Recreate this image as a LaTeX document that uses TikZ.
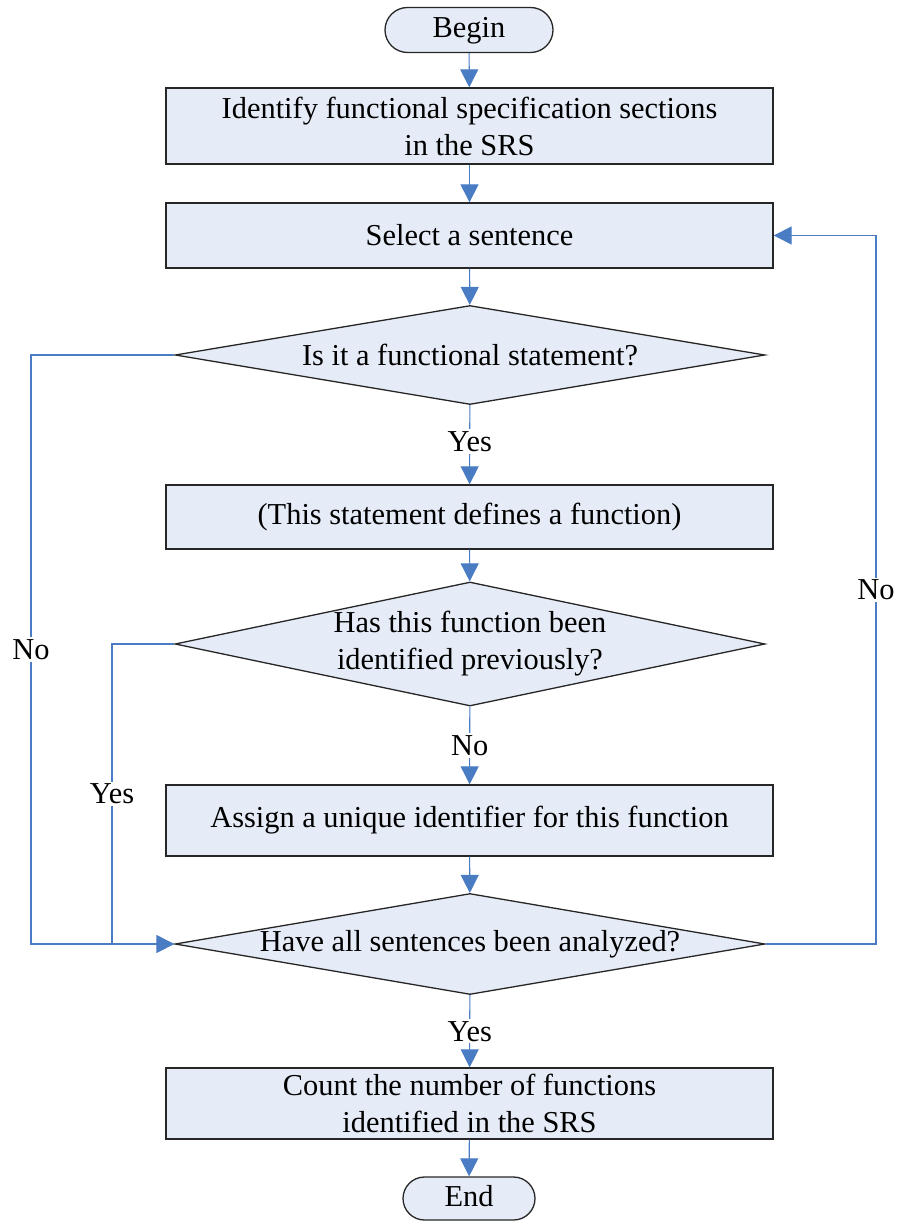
\documentclass[tikz,border=0pt]{standalone}
\usepackage{fontspec}
\setmainfont{Liberation Serif}
\usetikzlibrary{shapes.geometric,shapes.misc,arrows.meta}
\definecolor{boxfill}{RGB}{230,236,247}
\definecolor{flow}{RGB}{74,124,196}
\begin{document}
\begin{tikzpicture}[x=1pt,y=-1pt,
  every node/.style={font=\fontsize{30.4}{37}\selectfont},
  stepbox/.style={rectangle,draw=black!85,line width=1.3pt,fill=boxfill,
    minimum width=607pt,align=center,inner sep=0pt},
  term/.style={rounded rectangle,draw=black!85,line width=1.3pt,fill=boxfill,
    inner sep=0pt,minimum height=45pt,text height=21pt,text depth=5pt},
  decide/.style={diamond,draw=black!85,line width=1.3pt,fill=boxfill,
    align=center,inner sep=0pt,minimum width=590pt},
  flowline/.style={draw=flow,line width=1.1pt},
  flowarrow/.style={flowline,-{Triangle[length=18pt,width=18pt]}},
  tag/.style={fill=white,inner sep=2pt}]
\useasboundingbox (0,0) rectangle (898,1222);

% main column
\node[term,minimum width=168pt] (begin) at (469,30) {Begin};
\node[stepbox,minimum height=76pt] (ident) at (469.5,126)
  {Identify functional specification sections\\in the SRS};
\node[stepbox,minimum height=65pt] (select) at (469.5,235.5) {Select a sentence};
\node[decide,minimum height=99pt,shape aspect=5.96] (isfunc) at (470,355)
  {Is it a functional statement?};
\node[stepbox,minimum height=64pt] (defines) at (469.5,517)
  {(This statement defines a function)};
\node[decide,minimum height=124pt,shape aspect=4.76] (seen) at (470,644)
  {Has this function been\\identified previously?};
\node[stepbox,minimum height=71pt] (assign) at (469.5,820.5)
  {Assign a unique identifier for this function};
\node[decide,minimum height=101pt,shape aspect=5.84] (alldone) at (470,944)
  {Have all sentences been analyzed?};
\node[stepbox,minimum height=71pt] (count) at (469.5,1103.5)
  {Count the number of functions\\identified in the SRS};
\node[term,minimum width=132pt,minimum height=43pt] (end) at (469,1198.5) {End};

% branch corners
\coordinate (lfar) at (31,355);
\coordinate (lfarb) at (31,944);
\coordinate (lnear) at (112,644);
\coordinate (lnearb) at (112,944);
\coordinate (rtop) at (876,235.5);
\coordinate (rbot) at (876,944);

% straight flow
\draw[flowarrow] (begin) -- (ident);
\draw[flowarrow] (ident) -- (select);
\draw[flowarrow] (select) -- (isfunc);
\draw[flowarrow] (isfunc) -- node[tag,pos=0.46] {Yes} (defines);
\draw[flowarrow] (defines) -- (seen);
\draw[flowarrow] (seen) -- node[tag,pos=0.5] {No} (assign);
\draw[flowarrow] (assign) -- (alldone);
\draw[flowarrow] (alldone) -- node[tag,pos=0.5] {Yes} (count);
\draw[flowarrow] (count) -- (end);

% side branches
\draw[flowarrow] (isfunc.west) -- (lfar) -- node[tag,pos=0.5] {No} (lfarb) -- (alldone.west);
\draw[flowline] (seen.west) -- (lnear) -- node[tag,pos=0.5] {Yes} (lnearb);
\draw[flowarrow] (alldone.east) -- (rbot) -- node[tag,pos=0.5] {No} (rtop) -- (select.east);
\end{tikzpicture}
\end{document}
